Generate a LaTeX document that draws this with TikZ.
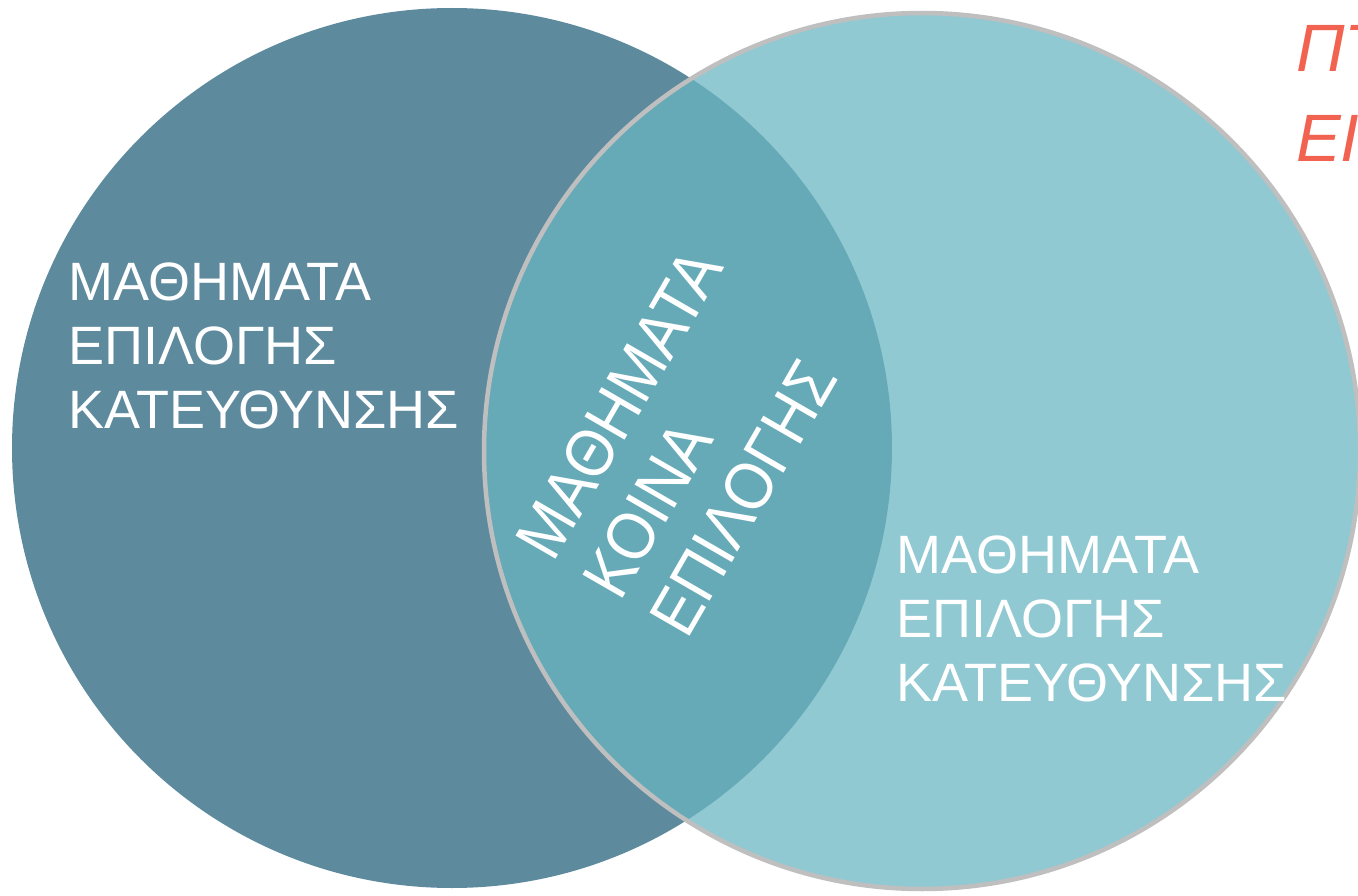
\documentclass[tikz,border=0pt]{standalone}
\usepackage{fontspec}
\setmainfont{Liberation Sans}
\usepackage{xcolor}
\usepackage{tikz}
\usetikzlibrary{positioning, calc}

\definecolor{leftblue}{RGB}{94,138,158}
\definecolor{rightteal}{RGB}{145,201,210}
\definecolor{midteal}{RGB}{102,170,184}
\definecolor{rimgray}{RGB}{191,191,191}
\definecolor{titlered}{RGB}{242,98,80}

\begin{document}
\begin{tikzpicture}[x=1pt, y=-1pt,
    setlabel/.style={text=white, align=left, inner sep=0pt, anchor=base west,
        font=\fontsize{54}{64}\selectfont},
    commonlabel/.style={text=white, align=left, inner sep=0pt, anchor=base west,
        rotate=60, yscale=1.1, font=\fontsize{61}{70}\selectfont},
    titlelabel/.style={text=titlered, align=left, inner sep=0pt, anchor=base west,
        font=\fontsize{67}{90}\selectfont\itshape}]
    \useasboundingbox (0,0) rectangle (1358,896);
    \clip (0,0) rectangle (1358,896);

    % Centres
    \coordinate (leftc) at (452,448);
    \coordinate (rightc) at (922,451);

    % Circles
    \fill[leftblue] (leftc) circle[radius=440pt];
    \fill[rightteal] (rightc) circle[radius=438pt];
    \begin{scope}
        \clip (leftc) circle[radius=440pt];
        \fill[midteal] (rightc) circle[radius=438pt];
    \end{scope}
    \draw[rimgray, line width=4.5pt] (rightc) circle[radius=438pt];

    % Labels (anchored on the last line)
    \node[setlabel] (leftset) at (68,428) {ΜΑΘΗΜΑΤΑ\\ΕΠΙΛΟΓΗΣ\\ΚΑΤΕΥΘΥΝΣΗΣ};
    \node[setlabel] (rightset) at (896,701) {ΜΑΘΗΜΑΤΑ\\ΕΠΙΛΟΓΗΣ\\ΚΑΤΕΥΘΥΝΣΗΣ};
    \node[commonlabel] (common) at (687,641) {ΜΑΘΗΜΑΤΑ\\ΚΟΙΝΑ\\ΕΠΙΛΟΓΗΣ};

    % Title (cut off at the edge)
    \node[titlelabel] (title) at (1296,162) {ΠΤ\\ΕΙ};
\end{tikzpicture}
\end{document}
